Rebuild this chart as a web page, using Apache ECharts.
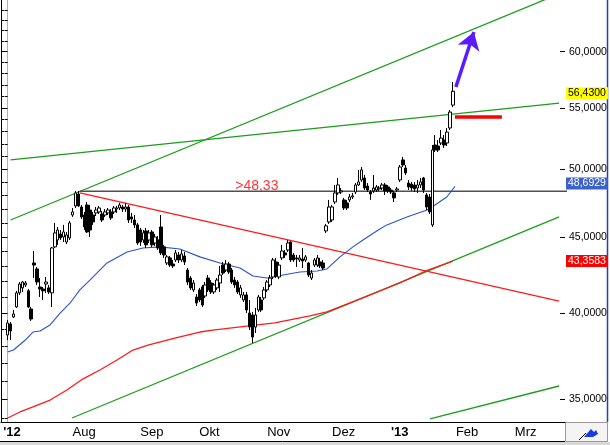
<!DOCTYPE html>
<html><head><meta charset="utf-8">
<script src="https://cdn.jsdelivr.net/npm/echarts@6/dist/echarts.min.js"></script>
<style>html,body{margin:0;padding:0;background:#fff}#c{width:610px;height:445px}</style>
</head><body><div id="c"></div>
<script>
// ---- daily candles (trading-day index 0 = early Jul 2012) ----
const openP = [38.67,39.34,39.77,40.39,41.28,41.60,41.79,41.41,40.26,43.24,
42.84,41.66,41.53,41.85,41.60,41.28,44.33,44.81,45.23,45.02,
44.67,44.95,46.58,47.24,48.12,47.16,46.58,47.31,46.94,46.58,
46.73,46.80,46.65,46.58,46.73,46.80,46.80,47.01,47.09,47.16,
47.01,47.16,46.44,46.22,45.87,45.51,44.81,45.44,44.81,45.37,
44.60,44.81,45.72,44.33,43.24,43.58,43.17,43.44,43.78,43.44,
43.71,42.77,42.24,41.47,41.02,41.47,41.66,41.08,42.24,41.92,
41.34,41.60,41.92,43.10,42.77,43.17,42.77,42.11,41.98,41.15,
40.83,41.15,40.01,39.89,39.15,40.20,40.83,40.96,41.47,41.79,
42.31,43.31,42.31,43.58,43.92,44.12,44.67,43.78,43.58,43.44,
43.51,43.44,43.24,42.24,43.10,43.10,43.31,43.24,45.44,46.08,
46.22,47.53,48.20,48.27,47.68,47.46,47.68,47.90,48.27,48.80,
49.18,49.33,48.72,48.27,48.35,48.42,48.50,48.57,48.80,48.65,
48.42,48.20,48.42,49.18,50.73,50.10,48.95,48.87,48.80,48.57,
48.80,49.33,48.05,47.90,45.87,51.92,51.84,52.08,52.32,52.08,
53.31,55.23];
const closeP = [39.40,38.91,39.95,41.28,41.85,41.98,41.92,40.39,39.64,43.10,
41.98,41.53,41.41,41.98,41.34,44.26,45.30,45.51,44.95,45.37,
45.16,46.01,46.80,48.20,47.24,46.44,45.72,45.37,45.51,46.08,
46.94,47.09,46.22,46.80,46.94,46.37,47.09,47.09,47.31,47.01,
47.16,46.22,46.29,45.87,44.60,44.67,45.30,44.47,45.30,44.47,
45.02,44.26,43.92,43.78,43.65,43.10,43.04,43.92,43.44,43.85,
43.31,41.98,41.60,41.92,40.64,40.83,40.51,41.79,41.47,41.34,
41.79,42.11,42.44,42.57,43.17,42.64,41.98,41.79,41.34,41.60,
41.15,40.20,39.15,38.55,39.89,41.02,40.20,41.47,41.98,42.24,
43.44,42.37,43.10,44.05,43.78,44.60,43.44,43.44,43.51,43.58,
43.37,43.65,42.44,42.57,43.44,43.58,43.04,42.90,45.80,47.16,
47.16,48.20,48.80,48.35,47.09,47.09,47.90,47.98,48.80,49.03,
49.95,48.57,48.42,48.12,48.57,48.65,48.57,48.80,48.35,48.35,
48.27,47.83,48.50,50.18,50.34,49.72,48.65,48.57,48.50,48.80,
49.03,48.42,47.16,46.80,51.52,51.52,51.52,52.48,51.92,52.97,
54.64,56.43];
const lowP = [38.37,38.37,39.70,40.33,41.15,41.34,41.66,40.33,39.52,42.24,
41.79,41.02,40.83,41.28,41.21,40.39,44.26,44.47,44.81,44.67,
44.53,44.81,46.44,47.09,47.16,46.29,45.51,45.30,45.02,45.87,
46.51,46.65,46.08,46.44,46.58,46.22,46.65,46.73,46.94,46.80,
46.80,46.01,46.01,45.65,44.47,44.40,44.60,44.26,44.60,44.33,
44.40,44.12,43.78,43.58,43.10,42.97,42.90,43.31,43.24,43.31,
43.10,41.79,41.47,41.34,40.45,40.70,40.39,40.96,41.34,41.21,
41.21,41.47,41.34,42.44,42.64,42.51,41.85,41.60,41.21,40.96,
40.70,40.01,38.97,38.19,38.79,40.08,40.08,40.83,41.34,41.66,
42.17,42.24,42.17,43.44,43.58,43.98,43.31,43.31,42.97,43.31,
42.90,43.31,42.31,42.11,42.97,42.97,42.90,42.77,45.30,45.94,
46.08,47.38,48.05,48.12,46.94,46.94,47.53,47.75,48.12,48.72,
49.03,48.42,48.27,47.68,48.20,48.27,48.35,48.42,48.05,48.20,
48.12,47.53,48.27,49.03,50.18,49.56,48.42,48.35,48.27,48.20,
48.57,48.20,46.94,46.65,45.72,51.36,51.36,51.92,51.68,51.84,
53.14,55.06];
const highP = [39.58,39.46,40.20,41.41,41.98,42.05,42.05,41.53,40.39,44.05,
42.97,42.24,41.66,42.31,41.79,44.33,46.01,45.72,45.51,45.87,
45.37,46.15,47.09,48.35,48.35,47.31,46.80,47.53,47.31,46.80,
47.16,47.24,46.87,47.01,47.09,47.01,47.24,47.24,47.46,47.31,
47.46,47.31,46.73,46.58,46.01,45.65,45.51,45.65,45.51,45.51,
45.23,45.09,46.58,44.47,43.78,43.71,43.44,44.12,43.98,44.12,
43.98,42.90,42.37,42.11,41.21,41.60,41.79,41.98,42.44,42.11,
41.92,42.24,43.04,43.31,43.44,43.31,42.90,42.31,42.11,41.79,
41.34,41.34,40.83,40.08,40.33,41.15,41.02,41.66,42.11,42.44,
43.58,43.58,43.31,44.47,44.12,44.81,44.74,43.92,43.78,43.78,
44.26,43.78,43.31,42.77,43.58,43.78,43.58,43.44,45.94,47.68,
47.31,48.80,49.33,48.57,47.83,47.68,48.12,48.20,48.95,49.95,
50.18,49.56,48.95,48.42,49.56,48.80,48.72,48.95,48.95,48.80,
48.57,48.35,48.65,50.34,50.97,50.34,49.18,49.03,49.03,49.18,
49.33,49.41,48.20,48.12,51.92,52.73,52.32,53.14,52.73,53.31,
54.81,57.24];

// ---- moving averages ----
const blueMaIdx = [0,2,6,8.6,11,14.4,17.8,21.2,24.5,27.9,33.7,40.5,45.9,51.7,58.4,65.2,72,78.8,83.2,87.9,93.4,99.1,104.9,108.3,112.7,117.1,120.5,126.2,128.6,135.4,142.2,144.9,148.9,151.7];
const blueMaVal = [37.66,37.78,38.37,38.85,38.91,39.28,40.01,40.64,41.47,42.11,43.24,43.98,44.26,44.33,44.19,43.65,43.24,42.90,42.37,42.24,42.44,42.64,42.70,42.84,43.65,44.33,44.81,45.58,45.87,46.44,46.94,47.31,47.90,48.69];
const redMaIdx = [0,4.2,8.6,14.4,20.1,25.6,31.3,37.1,42.5,47.6,56.7,65.2,69.6,81.1,90.6,102.5,108.3,116.1,124.6,133,142.5,151];
const redMaVal = [34.00,34.32,34.59,34.96,35.51,36.13,36.63,37.20,37.78,38.07,38.49,38.85,38.97,39.21,39.40,39.83,40.08,40.64,41.28,41.92,42.77,43.36];

// ---- drawn trend lines [index, price] ----
const greenUpper = [[1,46.22],[190,66.01]];
const greenFlat = [[1,50.73],[187,55.41]];
const greenLower = [[21.8,34.00],[187,46.44]];
const greenBottom = [[143.2,33.95],[187,35.73]];
const redDown = [[24.5,48.20],[187,40.76]];
const grayLevel = [[24.5,48.33],[190,48.33]];
const redTarget = [[151.7,54.22],[167.6,54.22]];
const arrowPts = [[152,56.80],[158.1,61.86]];
const levelLabel = '>48,33';
const levelLabelIdx = 84.5;

// ---- tags ----
const lastClose = 56.43, blueLast = 48.6929, redLast = 43.3583;

// ---- axes ----
const monthIdx = [-1.5,22,45,65,88,110,130,152,172];
const monthLabels = ["'12","Aug","Sep","Okt","Nov","Dez","'13","Feb","Mrz"];
const yMajor = [35,40,45,50,55,60];
const yMinor = [];
for (let v = 34; v <= 64; v++) yMinor.push(v);
const priceMin = 33.79, priceMax = 65.01;
const xMin = -2.24, xMax = 189;

const L = Math.log;
const fmt4 = v => Math.exp(v).toFixed(4).replace('.', ',');
const toLn = arr => arr.map(p => [p[0], L(p[1])]);

const candles = openP.map((o, i) => [i, L(o), L(closeP[i]), L(lowP[i]), L(highP[i])]);
const blueMa = blueMaIdx.map((x, i) => [x, L(blueMaVal[i])]);
const redMa = redMaIdx.map((x, i) => [x, L(redMaVal[i])]);

const font = 'Liberation Sans, Arial, sans-serif';
const GREEN = '#1a9e1a', RED = '#ff1a1a';

function trend(data, color, width) {
  return {type:'line', data: toLn(data), symbol:'none', silent:true, clip:true,
    lineStyle:{color, width}, z:2, animation:false};
}
function tag(val, text, bg, fg) {
  return {silent:true, symbol:'none', animation:false,
    lineStyle:{width:0, color:'rgba(0,0,0,0)'},
    label:{show:true, position:'end', distance:1, formatter:text, backgroundColor:bg, color:fg,
      fontFamily:font, fontSize:10.5, padding:[1,2,0,2], lineHeight:11},
    data:[{yAxis:L(val)}]};
}
const yBase = {type:'value', min:L(priceMin), max:L(priceMax), splitLine:{show:false}};

const chart = echarts.init(document.getElementById('c'), null, {renderer:'canvas'});
chart.setOption({
  animation:false,
  backgroundColor:'#fff',
  grid:{left:1, right:45, top:0, bottom:23, outerBoundsMode:'none', containLabel:false},
  xAxis:{type:'value', min:xMin, max:xMax,
    axisLine:{show:true, onZero:false, lineStyle:{color:'#000', width:1}},
    axisTick:{show:false}, splitLine:{show:false},
    axisLabel:{show:true, customValues:monthIdx, align:'left', margin:4, color:'#000',
      fontFamily:font, fontSize:13,
      formatter:v=>{let k=0,d=1e9;monthIdx.forEach((m,i)=>{if(Math.abs(m-v)<d){d=Math.abs(m-v);k=i;}});
        const t=monthLabels[k]; return t.charAt(0)==="'" ? '{b|'+t+'}' : t;},
      rich:{b:{fontWeight:'bold', fontSize:13, fontFamily:font, color:'#000'}}}},
  yAxis:[
    Object.assign({}, yBase, {position:'right',
      axisLine:{show:true, lineStyle:{color:'#f0b400', width:1}},
      axisTick:{show:true, inside:true, length:3, customValues:yMinor.map(L), lineStyle:{color:'#000'}},
      axisLabel:{show:true, customValues:yMajor.map(L), formatter:fmt4, color:'#000', fontFamily:font, fontSize:10.5, margin:4}}),
    Object.assign({}, yBase, {position:'right',
      axisLine:{show:false},
      axisTick:{show:true, inside:true, length:5, customValues:yMajor.map(L), lineStyle:{color:'#000'}},
      axisLabel:{show:false}}),
    Object.assign({}, yBase, {position:'left',
      axisLine:{show:true, lineStyle:{color:'#000', width:1}},
      axisTick:{show:true, inside:true, length:3, customValues:yMinor.map(L), lineStyle:{color:'#000'}},
      axisLabel:{show:false}}),
    Object.assign({}, yBase, {position:'left',
      axisLine:{show:false},
      axisTick:{show:true, inside:true, length:5, customValues:yMajor.map(L), lineStyle:{color:'#000'}},
      axisLabel:{show:false}})
  ],
  series:[
    trend(greenUpper, GREEN, 1.3),
    trend(greenFlat, GREEN, 1.3),
    trend(greenLower, GREEN, 1.3),
    trend(greenBottom, GREEN, 1.3),
    trend(redDown, RED, 1.3),
    trend(grayLevel, '#505050', 1.5),
    {type:'line', data:redMa, symbol:'none', silent:true, lineStyle:{color:RED, width:1.3}, z:3, markLine:tag(redLast, '43,3583', '#ff0000', '#fff')},
    {type:'line', data:blueMa, symbol:'none', silent:true, lineStyle:{color:'#2a52d0', width:1.1}, z:3, markLine:tag(blueLast, '48,6929', '#3a62c8', '#fff')},
    {type:'candlestick', data:candles, encode:{x:0, y:[1,2,3,4]}, barWidth:3, z:4,
      itemStyle:{color:'#fff', color0:'#000', borderColor:'#000', borderColor0:'#000', borderWidth:1},
      markLine:tag(lastClose, '56,4300', '#ffff00', '#000')},
    {type:'line', data:toLn(redTarget), symbol:'none', silent:true, lineStyle:{color:'#ff0000', width:3.5}, z:5,
      markLine:{silent:true, symbol:['none','arrow'], symbolSize:17, animation:false,
        lineStyle:{color:'#5a1cff', width:3.5, type:'solid'}, label:{show:false},
        data:[[{coord:[arrowPts[0][0], L(arrowPts[0][1])]},{coord:[arrowPts[1][0], L(arrowPts[1][1])]}]]}},
    {type:'scatter', data:[[levelLabelIdx, L(grayLevel[0][1])]], symbolSize:1, silent:true, z:6,
      itemStyle:{color:'rgba(0,0,0,0)'},
      label:{show:true, position:'top', distance:-2, formatter:levelLabel, color:'#ff0000', fontFamily:font, fontSize:14}}
  ],
  graphic:[
    {type:'line', shape:{x1:0, y1:441.5, x2:565, y2:441.5}, style:{stroke:'#000', lineWidth:1}, silent:true},
    {type:'rect', shape:{x:0, y:442, width:610, height:3}, style:{fill:'#d8d8d8'}, silent:true},
    {type:'rect', shape:{x:565.5, y:422.5, width:42, height:19}, style:{fill:'#f4f4f4', stroke:'#9a9a9a', lineWidth:1}, silent:true},
    {type:'line', shape:{x1:607.5, y1:0, x2:607.5, y2:422}, style:{stroke:'#2040c0', lineWidth:1.5}, silent:true},
    {type:'polygon', shape:{points:[[584,437],[591,429],[594,432],[596,430],[598,434],[593,437]]}, style:{fill:'#1a3ae0'}, silent:true},
    {type:'line', shape:{x1:579, y1:440, x2:586, y2:433}, style:{stroke:'#000', lineWidth:1}, silent:true}
  ]
});
</script></body></html>
